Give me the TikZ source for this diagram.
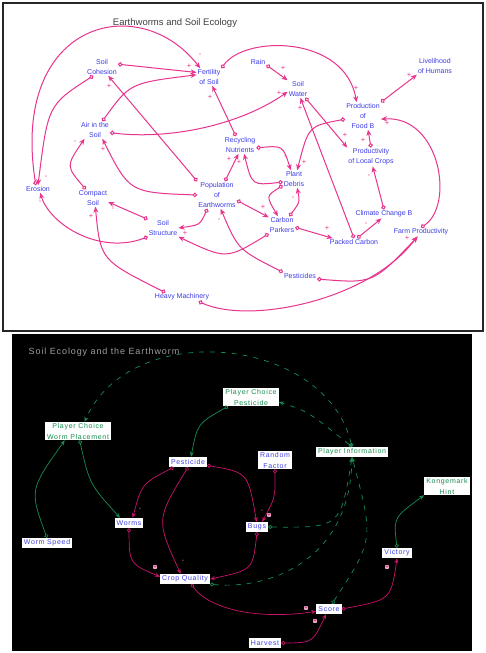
\documentclass[tikz,border=0pt]{standalone}
\usepackage{fontspec}
\setmainfont{Liberation Sans}
\newfontfamily\gamefont[LetterSpace=10]{Liberation Sans}
\usepackage{tikz}
\usetikzlibrary{arrows.meta}

\definecolor{looppink}{RGB}{232,52,140}
\definecolor{varblue}{RGB}{60,60,232}
\definecolor{gamegreen}{RGB}{22,140,80}
\definecolor{gamepink}{RGB}{204,18,108}
\definecolor{gameblue}{RGB}{64,64,230}

\begin{document}
\begin{tikzpicture}[
  x=1pt, y=-1pt,
  var/.style={text=varblue, font=\fontsize{7}{10}\selectfont, align=center, inner sep=1pt},
  link/.style={draw=looppink, line width=1pt, arrows={Circle[open, length=4.5pt]-Stealth[length=6pt, width=5pt]}},
  sgn/.style={text=looppink, font=\fontsize{7.5}{7.5}\selectfont, inner sep=0pt},
  gbox/.style={fill=white, text=gamegreen, font=\gamefont\fontsize{7}{11}\selectfont, align=center, inner xsep=2pt, inner ysep=1pt, minimum height=10pt},
  bbox/.style={gbox, text=gameblue},
  glink/.style={draw=gamegreen, line width=0.7pt, arrows={Circle[open, length=4pt]-Stealth[length=5pt, width=4pt]}},
  gdash/.style={glink, dash pattern=on 5pt off 6pt},
  plink/.style={glink, draw=gamepink},
  bsgn/.style={fill=gamepink!35!white, text=gamepink, font=\fontsize{5}{5}\selectfont\bfseries, inner sep=0.5pt, rounded corners=0.8pt},
  bmin/.style={text=gamepink!60!white, font=\fontsize{7}{7}\selectfont, inner sep=0pt}
]
  \useasboundingbox (0,0) rectangle (485,653);
  \fill[white] (0,0) rectangle (485,653);
  \draw[line width=2pt, black!85, fill=white] (2.5,2.5) rectangle (482.5,331);
  \fill[black] (12,334) rectangle (472,651);

  % earthworms and soil ecology
  \node[text=black!75, font=\fontsize{9.5}{10}\selectfont] (ttl) at (175,23) {Earthworms and Soil Ecology};
  \node[var] (coh) at (102,67) {Soil\\Cohesion};
  \node[var] (fert) at (209,77) {Fertility\\of Soil};
  \node[var] (air) at (95,130) {Air in the\\Soil};
  \node[var] (rain) at (258,62) {Rain};
  \node[var] (water) at (298,89) {Soil\\Water};
  \node[var] (liveli) at (435,66) {Livelihood\\of Humans};
  \node[var] (food) at (363,116) {Production\\of\\Food B};
  \node[var] (crops) at (371,157) {Productivity\\of Local Crops};
  \node[var] (recyc) at (240,145) {Recycling\\Nutrients};
  \node[var] (erosion) at (38,189) {Erosion};
  \node[var] (compact) at (93,198) {Compact\\Soil};
  \node[var] (pop) at (217,195) {Population\\of\\Earthworms};
  \node[var] (struct) at (163,228) {Soil\\Structure};
  \node[var] (debris) at (294,179) {Plant\\Debris};
  \node[var] (parkers) at (282,225) {Carbon\\Parkers};
  \node[var] (packed) at (354,242) {Packed Carbon};
  \node[var] (climate) at (384,214) {Climate Change B};
  \node[var] (farm) at (421,232) {Farm Productivity};
  \node[var] (pest) at (300,276) {Pesticides};
  \node[var] (heavy) at (182,297) {Heavy Machinery};

  \draw[link] (erosion.120) .. controls (10,20) and (140,-10) .. (fert.135);
  \draw[link] (coh.225) .. controls (48,105) .. (erosion.north);
  \draw[link] (coh.10) -- (fert.160);
  \draw[link] (air.50) .. controls (130,83) .. (fert.170);
  \draw[link] (recyc.115) -- (fert.-70);
  \draw[link] (fert.north east) .. controls (245,35) and (345,35) .. (food.115);
  \draw[link] (rain.-20) -- (water.north west);
  \draw[link] (air.-10) .. controls (170,140) and (240,125) .. (water.-165);
  \draw[link] (food.north east) -- (liveli.south west);
  \draw[link] (water.-50) -- (crops.north west);
  \draw[link] (packed.north) -- (water.-75);
  \draw[link] (crops.north) -- (food.-70);
  \draw[link] (climate.north) -- (crops.-80);
  \draw[link] (packed.50) -- (climate.-120);
  \draw[link] (farm.north) .. controls (455,205) and (440,115) .. (food.-10);
  \draw[link] (food.-170) .. controls (308.5,126) .. (debris.70);
  \draw[link] (recyc.-10) .. controls (283,145.5) .. (debris.110);
  \draw[link] (debris.-165) .. controls (252,185.5) .. (recyc.-65);
  \draw[link] (pop.60) -- (recyc.-100);
  \draw[link] (debris.-150) .. controls (266,196) .. (parkers.115);
  \draw[link] (parkers.50) .. controls (300,202) .. (debris.-70);
  \draw[link] (pop.-15) -- (parkers.150);
  \draw[link] (parkers.-10) -- (packed.170);
  \draw[link] (parkers.south west) .. controls (226.5,259.5) .. (struct.south east);
  \draw[link] (pop.-125) .. controls (200,225) .. (struct.east);
  \draw[link] (struct.north west) -- (compact.-15);
  \draw[link] (struct.-150) .. controls (100,255) and (50,225) .. (erosion.-60);
  \draw[link] (heavy.165) .. controls (100.5,260) .. (compact.-75);
  \draw[link] (compact.130) .. controls (66,166) .. (air.-140);
  \draw[link] (pop.west) .. controls (129.5,192.5) .. (air.-50);
  \draw[link] (pop.north west) -- (coh.-55);
  \draw[link] (pest.north west) .. controls (238,249.5) .. (pop.-75);
  \draw[link] (pest.-10) .. controls (373,283.5) .. (farm.-125);
  \draw[link] (heavy.-15) .. controls (250,325) and (370,300) .. (farm.-130);

  \foreach \px/\py/\s [count=\i] in {200/55/-, 46/177/-, 189/66/+, 210/97/+, 356/88/+,
      283/68/+, 279/93/+, 409/75/+, 345/135/+, 300/108/+, 363/140/+, 369/176/-,
      366/224/-, 387/123/+, 304/162/+, 285/157/-, 239/162/+, 229/159/+, 293/198/-,
      263/207/+, 327/228/+, 185/233/+, 113/209/-, 40/202/-, 91/216/+, 75/142/-,
      103/149/+, 109/86/+, 219/220/-, 407/238/+}
    \node[sgn] (tsg\i) at (\px,\py) {\s};

  % soil ecology and the earthworm
  \node[text=black!38, font=\gamefont\fontsize{9}{10}\selectfont] (gttl) at (104,352) {Soil Ecology and the Earthworm};
  \node[gbox] (pcwp) at (78,431) {Player Choice\\Worm Placement};
  \node[gbox] (pcpest) at (251,397) {Player Choice\\Pesticide};
  \node[bbox] (bpest) at (188,462) {Pesticide};
  \node[bbox] (random) at (275,460) {Random\\Factor};
  \node[gbox] (pinfo) at (352,452) {Player Information};
  \node[gbox] (hint) at (447,486) {Kongemark\\Hint};
  \node[bbox] (worms) at (129,523) {Worms};
  \node[bbox] (bugs) at (257,527) {Bugs};
  \node[bbox] (wspeed) at (47,543) {Worm Speed};
  \node[bbox] (cropq) at (185,579) {Crop Quality};
  \node[bbox] (victory) at (397,553) {Victory};
  \node[bbox] (score) at (329,609) {Score};
  \node[bbox] (harvest) at (265,643) {Harvest};

  \draw[glink] (wspeed.north) .. controls (29.5,490) .. (pcwp.-145);
  \draw[glink] (pcwp.-80) .. controls (89.5,484) .. (worms.150);
  \draw[glink] (pcpest.-158) .. controls (197.5,423.5) .. (bpest.60);
  \draw[glink] (victory.north) .. controls (393.5,517.5) .. (hint.south west);
  \draw[gdash] (pinfo.north) .. controls (325,335) and (130,318) .. (pcwp.55);
  \draw[gdash] (pinfo.north) .. controls (308,411.5) .. (pcpest.-10);
  \draw[gdash] (bugs.east) .. controls (340.5,527.75) .. (pinfo.south);
  \draw[gdash] (cropq.south east) .. controls (270,590) and (350,560) .. (pinfo.south);
  \draw[gdash] (score.60) .. controls (374,539.5) .. (pinfo.south);
  \draw[plink] (bpest.-160) .. controls (141.75,483.75) .. (worms.55);
  \draw[plink] (bpest.south) .. controls (156,519.75) .. (cropq.130);
  \draw[plink] (bpest.-10) .. controls (248,472.5) .. (bugs.95);
  \draw[plink] (random.south) .. controls (275.25,497.5) .. (bugs.45);
  \draw[plink] (worms.south) .. controls (129.25,563.5) .. (cropq.175);
  \draw[plink] (bugs.south) .. controls (252.75,570) .. (cropq.east);
  \draw[plink] (cropq.-40) .. controls (210,610) and (260,620) .. (score.-170);
  \draw[plink] (harvest.east) .. controls (312.6,642.75) .. (score.-120);
  \draw[plink] (score.east) .. controls (391,599.75) .. (victory.south);

  \foreach \px/\py [count=\i] in {140/509, 183/561, 262/511}
    \node[bmin] (bmn\i) at (\px,\py) {-};
  \foreach \px/\py [count=\i] in {269/515, 155/567, 306/608, 315/621, 387/567}
    \node[bsgn] (bsg\i) at (\px,\py) {+};
\end{tikzpicture}
\end{document}
